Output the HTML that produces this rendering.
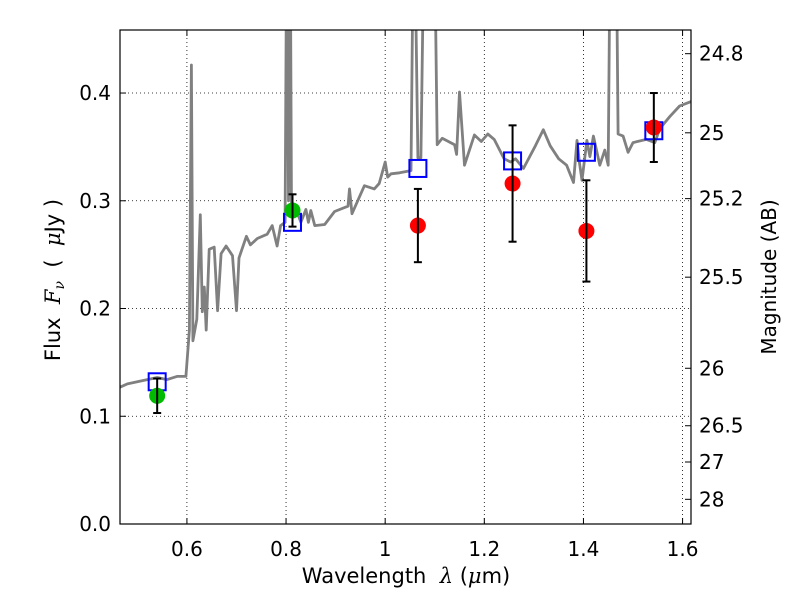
<!DOCTYPE html>
<html><head><meta charset="utf-8"><style>
html,body{margin:0;padding:0;background:#fff;}
svg text{font-family:"DejaVu Sans","Liberation Sans",sans-serif;white-space:pre;}
</style></head><body>
<svg id="chart" width="800" height="600" xmlns="http://www.w3.org/2000/svg"></svg>
<script>
const xTicks=[0.6,0.8,1.0,1.2,1.4,1.6];
const xTickLabels=["0.6","0.8","1","1.2","1.4","1.6"];
const yTicks=[0,0.1,0.2,0.3,0.4];
const yTickLabels=["0.0","0.1","0.2","0.3","0.4"];
const magTicks=[24.8,25,25.2,25.5,26,26.5,27,28];
const magTickLabels=["24.8","25","25.2","25.5","26","26.5","27","28"];
const specX=[0.465,0.48,0.50,0.52,0.54,0.56,0.58,0.598,0.605,0.609,0.612,0.62,0.627,0.631,0.635,0.639,0.645,0.655,0.662,0.669,0.679,0.692,0.70,0.705,0.72,0.728,0.742,0.762,0.772,0.782,0.789,0.798,0.802,0.805,0.808,0.811,0.82,0.83,0.84,0.845,0.85,0.858,0.878,0.898,0.925,0.928,0.933,0.958,0.978,0.988,1.0,1.005,1.012,1.029,1.052,1.058,1.066,1.072,1.08,1.088,1.098,1.105,1.115,1.14,1.144,1.15,1.16,1.18,1.194,1.207,1.22,1.24,1.253,1.263,1.279,1.303,1.319,1.333,1.35,1.366,1.38,1.387,1.392,1.397,1.407,1.413,1.42,1.433,1.443,1.45,1.455,1.465,1.47,1.48,1.49,1.5,1.527,1.544,1.554,1.574,1.594,1.617];
const specY=[0.127,0.130,0.132,0.134,0.136,0.134,0.137,0.137,0.18,0.426,0.170,0.190,0.287,0.197,0.220,0.180,0.255,0.257,0.198,0.251,0.258,0.249,0.198,0.247,0.267,0.259,0.265,0.269,0.277,0.258,0.277,0.28,0.6,0.3,0.6,0.29,0.292,0.280,0.292,0.280,0.291,0.277,0.278,0.290,0.295,0.311,0.288,0.314,0.311,0.316,0.336,0.322,0.325,0.326,0.328,0.6,0.34,0.34,0.6,0.6,0.6,0.352,0.358,0.352,0.343,0.401,0.333,0.361,0.355,0.362,0.357,0.339,0.336,0.339,0.330,0.351,0.366,0.351,0.339,0.333,0.317,0.356,0.335,0.319,0.356,0.341,0.360,0.333,0.347,0.333,0.6,0.6,0.362,0.360,0.345,0.354,0.357,0.354,0.367,0.378,0.388,0.392];
const obsX=[0.54,0.813,1.066,1.257,1.406,1.542];
const obsY=[0.119,0.291,0.277,0.316,0.272,0.368];
const obsErr=[0.016,0.015,0.034,0.054,0.047,0.032];
const obsColor=["#00bb00","#00bb00","#ff0000","#ff0000","#ff0000","#ff0000"];
const modelY=[0.132,0.280,0.330,0.337,0.345,0.365];

const L=120,R=691,T=30,B=524;
const xmin=0.465,xmax=1.617,ymin=0,ymax=0.4585;
const sx=v=>L+(v-xmin)/(xmax-xmin)*(R-L);
const sy=v=>B-(v-ymin)/(ymax-ymin)*(B-T);
const NS="http://www.w3.org/2000/svg";
const svg=document.getElementById('chart');
function mk(tag,attrs,parent){const e=document.createElementNS(NS,tag);for(const k in attrs)e.setAttribute(k,attrs[k]);(parent||svg).appendChild(e);return e;}
const defs=mk('defs',{});
const cp=mk('clipPath',{id:'clip'},defs);mk('rect',{x:L,y:T,width:R-L,height:B-T},cp);

xTicks.forEach((t,i)=>{
 const g=mk('line',{x1:sx(t),x2:sx(t),y1:T,y2:B,stroke:'#000','stroke-width':0.8,'stroke-dasharray':'1,3'});
 
 
 mk('line',{x1:sx(t),x2:sx(t),y1:B,y2:B-6,stroke:'#000'});
 mk('line',{x1:sx(t),x2:sx(t),y1:T,y2:T+6,stroke:'#000'});
 const tx=mk('text',{x:sx(t),y:556,'font-size':20,'text-anchor':'middle'});tx.textContent=xTickLabels[i];
 
 
});
yTicks.forEach((t,i)=>{
 const g=mk('line',{x1:L,x2:R,y1:sy(t),y2:sy(t),stroke:'#000','stroke-width':0.8,'stroke-dasharray':'1,3'});
 
 
 mk('line',{x1:L,x2:L+6,y1:sy(t),y2:sy(t),stroke:'#000'});
 const tx=mk('text',{x:111,y:sy(t)+7,'font-size':20,'text-anchor':'end'});tx.textContent=yTickLabels[i];
 
 
});
magTicks.forEach((m,i)=>{
 const f=Math.pow(10,(23.9-m)/2.5);
 mk('line',{x1:R,x2:R-6,y1:sy(f),y2:sy(f),stroke:'#000'});
 const tx=mk('text',{x:699,y:sy(f)+7,'font-size':20});tx.textContent=magTickLabels[i];
 
 
});

let d='';specX.forEach((x,i)=>{d+=(i?'L':'M')+sx(x).toFixed(1)+','+sy(specY[i]).toFixed(1);});
const sp=mk('path',{d:d,fill:'none',stroke:'#808080','stroke-width':2.8,'clip-path':'url(#clip)','stroke-linejoin':'round'});



obsX.forEach((x,i)=>{
 const r=mk('rect',{x:sx(x)-8.5,y:sy(modelY[i])-8.5,width:17,height:17,fill:'none',stroke:'#0000ff','stroke-width':2});
 
 
});
obsX.forEach((x,i)=>{
 const c=mk('circle',{cx:sx(x),cy:sy(obsY[i]),r:8,fill:obsColor[i]});
 
 
 const g=mk('g',{stroke:'#000','stroke-width':2});
 
 
 const x0=sx(x),y1=sy(obsY[i]+obsErr[i]),y2=sy(obsY[i]-obsErr[i]);
 mk('line',{x1:x0,x2:x0,y1:y1,y2:y2},g);
 mk('line',{x1:x0-4,x2:x0+4,y1:y1,y2:y1},g);
 mk('line',{x1:x0-4,x2:x0+4,y1:y2,y2:y2},g);
});

const fr=mk('rect',{x:L,y:T,width:R-L,height:B-T,fill:'none',stroke:'#000','stroke-width':1.2});



const xl=mk('text',{x:406,y:583,'font-size':21,'text-anchor':'middle'});
xl.innerHTML='Wavelength  <tspan font-style="italic" font-family="DejaVu Serif, serif">λ</tspan> (<tspan font-style="italic" font-family="DejaVu Serif, serif">μ</tspan>m)';


const yl=mk('text',{x:0,y:0,'font-size':21,'text-anchor':'middle',transform:'translate(60,280) rotate(-90)'});
yl.innerHTML='Flux  <tspan font-style="italic" font-family="DejaVu Serif, serif">F</tspan><tspan font-style="italic" font-size="14" dy="4" font-family="DejaVu Serif, serif">ν</tspan><tspan dy="-4">  (  </tspan><tspan font-style="italic" font-family="DejaVu Serif, serif">μ</tspan>Jy )';


const rl=mk('text',{x:0,y:0,'font-size':20,'text-anchor':'middle',transform:'translate(776,277) rotate(-90)'});
rl.textContent='Magnitude (AB)';


</script>
</body></html>
